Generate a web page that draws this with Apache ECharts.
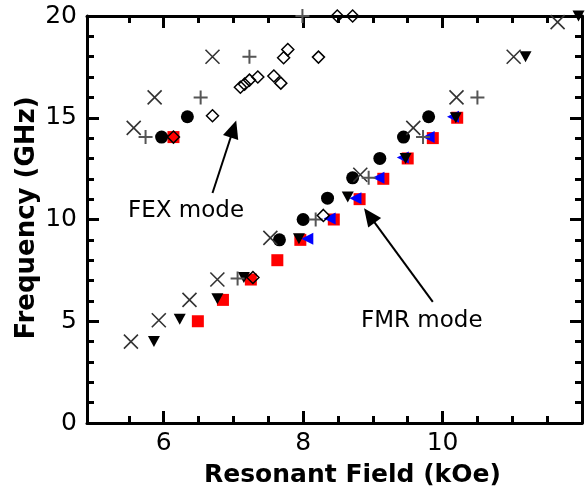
<!DOCTYPE html>
<html>
<head>
<meta charset="utf-8">
<script src="https://cdn.jsdelivr.net/npm/echarts@6/dist/echarts.min.js"></script>
<style>html,body{margin:0;padding:0;background:#fff}#c{width:587px;height:497px}</style>
</head>
<body>
<div id="c"></div>
<script>
// ---- data (Resonant Field kOe, Frequency GHz) ----
const crossPts = [[5.53,4],[5.93,5.05],[6.37,6.05],[6.77,7.05],[7.53,9.1],[8.82,12.2],[9.58,14.5],[10.2,16],[11.02,18],[11.65,19.7],[5.57,14.5],[5.87,16],[6.70,18]];
const plusPts = [[5.74,14.05],[6.53,16],[7.23,18],[7.99,20],[7.06,7.1],[8.18,10],[8.94,12.05],[9.72,14.05],[10.5,16]];
const circlePts = [[5.97,14.05],[6.34,15.05],[7.66,9],[8.0,10],[8.35,11.05],[8.71,12.05],[9.1,13],[9.44,14.05],[9.8,15.05]];
const diamondPts = [[6.14,14.05],[6.70,15.1],[7.10,16.5],[7.16,16.65],[7.23,16.85],[7.35,17.0],[7.58,17.05],[7.68,16.7],[7.72,17.95],[7.78,18.35],[8.22,17.98],[8.49,20],[8.71,20],[7.28,7.15],[8.29,10.2]];
const triDownPts = [[5.86,4],[6.23,5.1],[6.77,6.1],[7.15,7.15],[7.94,9.05],[8.64,11.1],[9.47,13],[10.19,15],[11.19,18],[11.95,20]];
const redSquarePts = [[6.14,14.05],[6.49,5],[6.85,6.05],[7.25,7.05],[7.63,8],[7.96,9],[8.44,10],[8.81,11],[9.15,12],[9.5,13],[9.86,14],[10.21,15]];
const blueTriPts = [[8.06,9.05],[8.38,10.05],[8.75,11.05],[9.08,12.05],[9.43,13.05],[9.80,14.05],[10.15,15.05]];

const xTickLabels = [6, 8, 10];
const xMinorTicks = [5.5,6.5,7,7.5,8.5,9,9.5,10.5,11,11.5];
const yTickLabels = [0, 5, 10, 15, 20];
const yMinorTicks = [1,2,3,4,6,7,8,9,11,12,13,14,16,17,18,19];

const fexArrow = [[6.70,11.3],[7.0,14.45]];
const fmrArrow = [[9.86,5.95],[8.95,10.2]];

const X_MIN = 4.9, X_MAX = 12, Y_MIN = 0, Y_MAX = 20;
const FONT = 'DejaVu Sans';

function xAx(pos, ticks, len, labels, line) {
  return {
    type: 'value', position: pos, min: X_MIN, max: X_MAX,
    axisLine: { show: line, onZero: false, lineStyle: { color: '#000', width: 3 } },
    axisTick: { show: true, inside: true, length: len, customValues: ticks, lineStyle: { color: '#000', width: 3 } },
    axisLabel: labels ? { show: true, customValues: labels, color: '#000', fontSize: 25, fontFamily: FONT, margin: 8 } : { show: false },
    splitLine: { show: false }
  };
}
function yAx(pos, ticks, len, labels, line) {
  return {
    type: 'value', position: pos, min: Y_MIN, max: Y_MAX,
    axisLine: { show: line, onZero: false, lineStyle: { color: '#000', width: 3 } },
    axisTick: { show: true, inside: true, length: len, customValues: ticks, lineStyle: { color: '#000', width: 3 } },
    axisLabel: labels ? { show: true, customValues: labels, color: '#000', fontSize: 25, fontFamily: FONT, margin: 10 } : { show: false },
    splitLine: { show: false }
  };
}

const crossPath = 'path://M0,0L10,10M10,0L0,10';
const plusPath = 'path://M5,0L5,10M0,5L10,5';

const chart = echarts.init(document.getElementById('c'), null, { renderer: 'canvas' });
chart.setOption({
  animation: false,
  backgroundColor: '#fff',
  grid: { left: 87, right: 5, top: 16, bottom: 74, containLabel: false },
  xAxis: [
    xAx('bottom', xTickLabels, 12, xTickLabels, true),
    xAx('bottom', xMinorTicks, 7, null, false),
    xAx('top', xTickLabels, 12, null, true),
    xAx('top', xMinorTicks, 7, null, false)
  ],
  yAxis: [
    yAx('left', yTickLabels, 12, yTickLabels, true),
    yAx('left', yMinorTicks, 7, null, false),
    yAx('right', yTickLabels, 12, null, true),
    yAx('right', yMinorTicks, 7, null, false)
  ],
  series: [
    { type: 'scatter', data: redSquarePts, symbol: 'rect', symbolSize: 12, itemStyle: { color: '#ff0000', opacity: 1 }, z: 2 },
    { type: 'scatter', data: blueTriPts, symbol: 'triangle', symbolSize: [12, 12], symbolRotate: 90, itemStyle: { color: '#0000ff', opacity: 1 }, z: 3 },
    { type: 'scatter', data: triDownPts, symbol: 'triangle', symbolSize: [12, 11], symbolRotate: 180, itemStyle: { color: '#000', opacity: 1 }, z: 4 },
    { type: 'scatter', data: circlePts, symbol: 'circle', symbolSize: 13, itemStyle: { color: '#000', opacity: 1 }, z: 5,
      markLine: {
        silent: true, symbol: ['none', 'triangle'], symbolSize: [16, 18], animation: false,
        label: { show: false },
        lineStyle: { color: '#000', width: 2, type: 'solid', opacity: 1 },
        emphasis: { disabled: true },
        data: [
          [{ coord: fexArrow[0] }, { coord: fexArrow[1] }],
          [{ coord: fmrArrow[0] }, { coord: fmrArrow[1] }]
        ]
      }
    },
    { type: 'scatter', data: crossPts, symbol: crossPath, symbolSize: 14, itemStyle: { color: 'none', borderColor: '#333', borderWidth: 1.6, opacity: 1 }, z: 6 },
    { type: 'scatter', data: plusPts, symbol: plusPath, symbolSize: 14, itemStyle: { color: 'none', borderColor: '#555', borderWidth: 2, opacity: 1 }, z: 7 },
    { type: 'scatter', data: diamondPts, symbol: 'diamond', symbolSize: 12, itemStyle: { color: 'rgba(255,255,255,0)', borderColor: '#000', borderWidth: 1.5, opacity: 1 }, z: 8 }
  ],
  graphic: [
    { type: 'text', left: 128, top: 200, style: { text: 'FEX mode', font: '23px "DejaVu Sans"', fill: '#000' } },
    { type: 'text', left: 361, top: 310, style: { text: 'FMR mode', font: '23px "DejaVu Sans"', fill: '#000' } },
    { type: 'text', left: 204, top: 463, style: { text: 'Resonant Field (kOe)', font: 'bold 25px "DejaVu Sans"', fill: '#000' } },
    { type: 'text', x: 27, y: 218, rotation: Math.PI / 2, style: { text: 'Frequency (GHz)', font: 'bold 26px "DejaVu Sans"', fill: '#000', align: 'center', verticalAlign: 'middle' } }
  ]
});
</script>
</body>
</html>
